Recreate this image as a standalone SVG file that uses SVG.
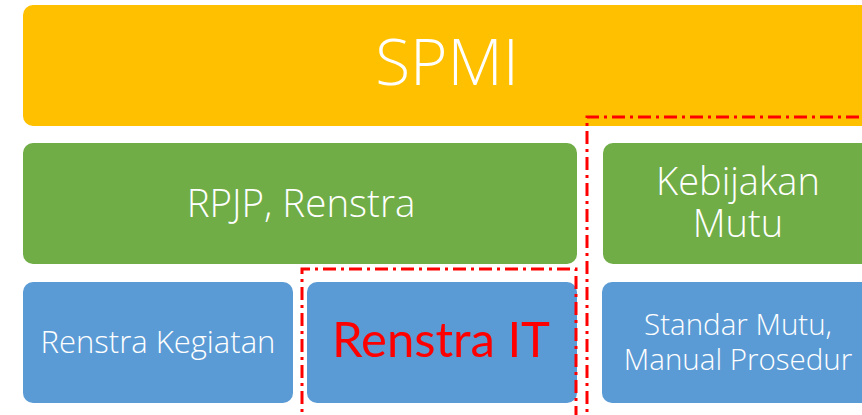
<svg xmlns="http://www.w3.org/2000/svg" width="862" height="415" viewBox="0 0 862 415">
<style>
.y{fill:#FFC000}
.g{fill:#70AD47}
.b{fill:#5B9BD5}
.t{font-family:"Open Sans","Lato","DejaVu Sans",sans-serif;font-weight:300;fill:#fff;text-anchor:middle}
.dash{fill:none;stroke:#FF0000;stroke-width:3;stroke-dasharray:13 5 3 5}
</style>
<rect width="862" height="415" fill="#fff"/>
<g id="spmi">
<rect class="y" x="23" y="5" width="860" height="121" rx="10"/>
<text class="t" x="447" y="85" font-size="64">SPMI</text>
</g>
<g id="rpjp">
<rect class="g" x="23" y="143" width="554" height="121" rx="10"/>
<text class="t" x="301" y="217" font-size="38.5">RPJP, Renstra</text>
</g>
<g id="kebijakan">
<rect class="g" x="603" y="143" width="280" height="121" rx="10"/>
<text class="t" font-size="38"><tspan x="738" y="195">Kebijakan</tspan><tspan x="738" y="237">Mutu</tspan></text>
</g>
<g id="renstra-kegiatan">
<rect class="b" x="23" y="282" width="270" height="121" rx="10"/>
<text class="t" x="158" y="353" font-size="31">Renstra Kegiatan</text>
</g>
<g id="renstra-it">
<rect class="b" x="307" y="282" width="270" height="121" rx="10"/>
<text x="441" y="357" font-size="49" font-family="Lato,'Liberation Sans',sans-serif" fill="#FF0000" text-anchor="middle">Renstra IT</text>
</g>
<g id="standar">
<rect class="b" x="602" y="282" width="281" height="121" rx="10"/>
<text class="t" font-size="29.5"><tspan x="738" y="335">Standar Mutu,</tspan><tspan x="738" y="370">Manual Prosedur</tspan></text>
</g>
<g id="connectors">
<path class="dash" d="M302 430 V269 H576 V430"/>
<path class="dash" d="M587 430 V117 H880"/>
</g>
</svg>
